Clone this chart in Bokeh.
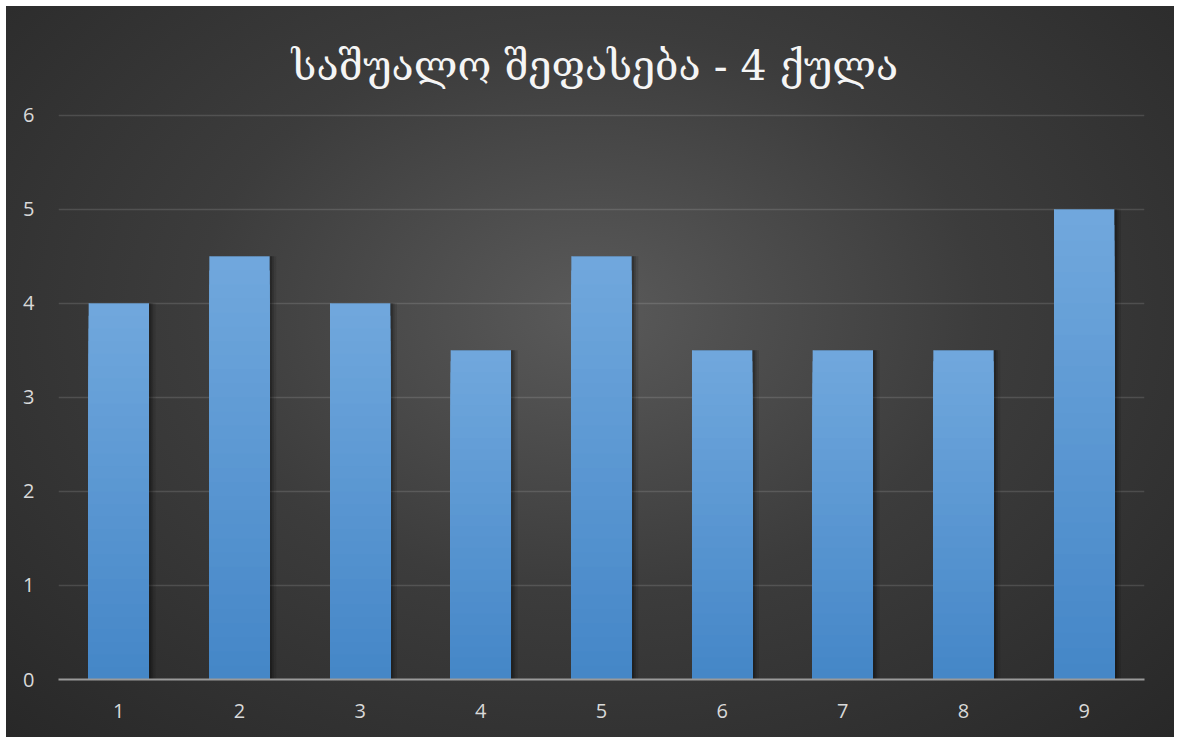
from bokeh.plotting import figure
from bokeh.models import FactorRange, Range1d, ColumnDataSource, SingleIntervalTicker
from bokeh.transform import dodge
from bokeh.embed import file_html
from bokeh.resources import INLINE

# ---- data ----
categories = ["1", "2", "3", "4", "5", "6", "7", "8", "9"]
scores = [4, 4.5, 4, 3.5, 4.5, 3.5, 3.5, 3.5, 5]
title_text = "საშუალო შეფასება - 4 ქულა"

p = figure(
    width=1168, height=731,
    frame_width=1086, frame_height=569,
    x_range=FactorRange(factors=categories, range_padding=0),
    y_range=Range1d(0, 6.05),
    output_backend="svg", toolbar_location=None,
    min_border_left=52, min_border_right=30,
    min_border_top=104, min_border_bottom=58,
)
p.margin = (6, 0, 0, 6)
p.styles = {"background": "radial-gradient(ellipse 75% 85% at 50% 42%, #5a5a5a 0%, #3c3c3c 45%, #262626 100%)"}
p.border_fill_alpha = 0
p.background_fill_alpha = 0
p.outline_line_color = None

p.title.text = title_text
p.title.align = "left"
p.title.offset = 215
p.title.vertical_align = "top"
p.title.standoff = 2
p.title.padding = 18
p.title.text_font = "DejaVu Serif"
p.title.text_font_size = "41px"
p.title.text_font_style = "normal"
p.title.text_color = "#f5f5f5"

src = ColumnDataSource(dict(x=categories, top=scores))

# soft shadow
for off, w, a in [(0.035, 0.54, 0.10), (0.025, 0.52, 0.15), (0.015, 0.51, 0.2)]:
    p.vbar(x=dodge("x", off, range=p.x_range), top="top", bottom=0, width=w,
           source=src, fill_color="black", fill_alpha=a, line_color=None)

# gradient bars (per-bar vertical gradient, lighter at top), overlapping layers
N = 30
top_c = (113, 168, 221)
bot_c = (68, 134, 199)
for k in range(N):
    frac = (N - k) / N
    t = frac - 0.5 / N
    c = tuple(int(round(bot_c[i] + (top_c[i] - bot_c[i]) * t)) for i in range(3))
    col = "#%02x%02x%02x" % c
    p.vbar(x=categories, bottom=0, top=[v * frac for v in scores],
           width=0.5, fill_color=col, line_color=None)

# axes
p.yaxis.ticker = SingleIntervalTicker(interval=1)
p.yaxis.axis_line_color = None
p.yaxis.major_tick_line_color = None
p.yaxis.minor_tick_line_color = None
p.yaxis.major_label_standoff = 18
p.xaxis.axis_line_color = "#9a9a9a"
p.xaxis.axis_line_width = 2
p.xaxis.major_tick_line_color = None
p.xaxis.minor_tick_line_color = None
p.xaxis.major_label_standoff = 18
for ax in (p.xaxis, p.yaxis):
    ax.major_label_text_font = "Open Sans"
    ax.major_label_text_font_size = "20px"
    ax.major_label_text_color = "#d9d9d9"

p.xgrid.grid_line_color = None
p.ygrid.grid_line_color = "#ffffff"
p.ygrid.grid_line_alpha = 0.13
p.ygrid.grid_line_width = 1.5

open("out.html", "w").write(file_html(p, INLINE))
